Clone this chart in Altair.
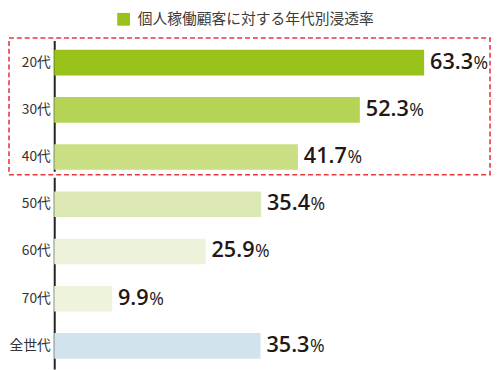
import altair as alt
import pandas as pd

ages = ["20代", "30代", "40代", "50代", "60代", "70代", "全世代"]
rates = [63.3, 52.3, 41.7, 35.4, 25.9, 9.9, 35.3]
bar_colors = ["#99c31a", "#b5d455", "#cadf84", "#dde9b4", "#edf3da", "#eef4dc", "#d1e3ed"]
legend_label = "個人稼働顧客に対する年代別浸透率"

W = 398
XMAX = 67.0
PXU = W / XMAX
H = 335

df = pd.DataFrame({"age": ages, "rate": rates})
leg_df = pd.DataFrame({"series": [legend_label]})

yenc = alt.Y("age:N", sort=ages, title=None,
             scale=alt.Scale(domain=ages, paddingInner=0.458, paddingOuter=0.219),
             axis=alt.Axis(labelFont="Noto Sans CJK JP", labelFontSize=14, labelColor="#333333",
                           labelPadding=4, ticks=False, domainColor="#222222", domainWidth=2,
                           grid=False))
xenc = alt.X("rate:Q", scale=alt.Scale(domain=[0, XMAX], nice=False), axis=None, title=None)

base = alt.Chart(df)

box_white = alt.Chart(leg_df).mark_rect(fill=None, stroke="white", strokeWidth=6).encode(
    x=alt.value(-46), x2=alt.value(443), y=alt.value(-1.5), y2=alt.value(137.5))
box_red = alt.Chart(leg_df).mark_rect(fill=None, stroke="#e8383d", strokeWidth=1.6,
                                      strokeDash=[5, 3]).encode(
    x=alt.value(-46), x2=alt.value(443), y=alt.value(-1.5), y2=alt.value(137.5))

bars = base.mark_bar().encode(
    x=xenc, y=yenc,
    color=alt.Color("age:N", scale=alt.Scale(domain=ages, range=bar_colors), legend=None),
)

nums = base.mark_text(align="left", baseline="alphabetic", dx=6, dy=6, font="Open Sans",
                      fontWeight=600, fontSize=22, color="#231815").encode(
    x=xenc, y=alt.Y("age:N", sort=ages), text=alt.Text("rate:Q", format=".1f"))

pct = base.transform_calculate(
    px=f"datum.rate + (6 + (datum.rate >= 10 ? 3 : 2) * 12.6 + 6.5) / {PXU}"
).mark_text(align="left", baseline="alphabetic", dy=6, font="Open Sans", fontSize=18,
            color="#231815").encode(
    x=alt.X("px:Q", scale=alt.Scale(domain=[0, XMAX], nice=False), axis=None),
    y=alt.Y("age:N", sort=ages), text=alt.value("%"))

legend_layer = alt.Chart(leg_df).mark_square(opacity=0).encode(
    x=alt.value(0), y=alt.value(0),
    fill=alt.Fill("series:N", scale=alt.Scale(domain=[legend_label], range=["#99c31a"]),
                  legend=alt.Legend(title=None, orient="none", legendX=63, legendY=-28,
                                    symbolType="square", symbolSize=169, symbolOpacity=1,
                                    symbolStrokeWidth=0, labelFont="Noto Sans CJK JP",
                                    labelFontSize=15, labelColor="#3e3a39", labelOffset=7,
                                    labelLimit=0, padding=0)))

chart = alt.layer(box_white, box_red, bars, nums, pct, legend_layer).properties(
    width=W, height=H,
    padding={"left": 47, "top": 29, "right": 47, "bottom": 0},
    autosize=alt.AutoSizeParams(type="none"),
).configure_view(stroke=None)

chart.save("out.html", embed_options={"renderer": "svg", "actions": False})
